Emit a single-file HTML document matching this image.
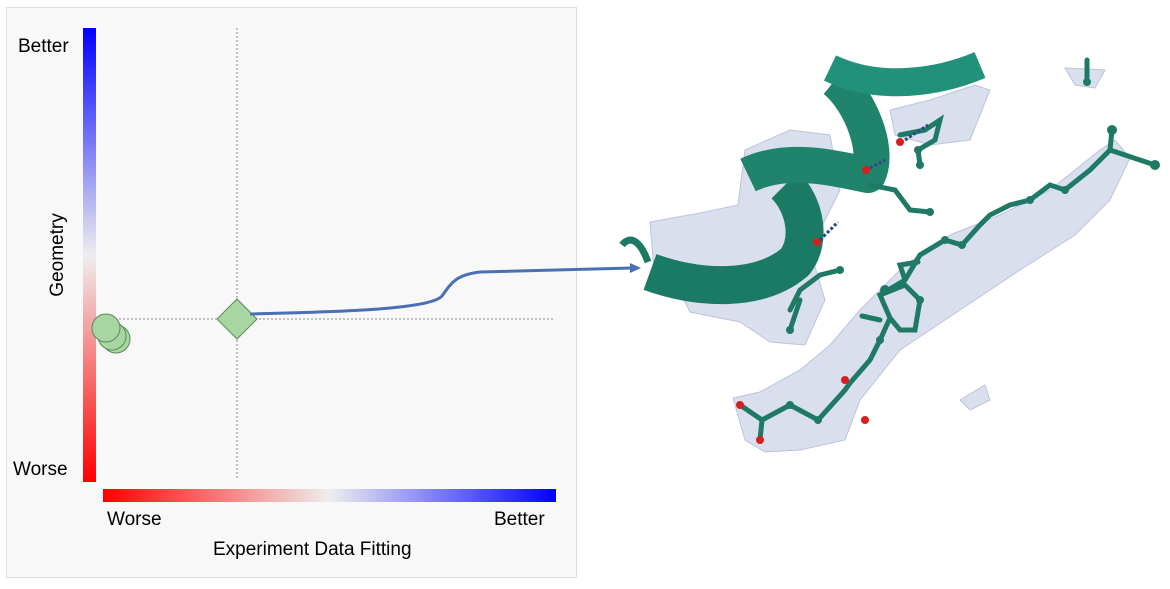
<!DOCTYPE html>
<html><head><meta charset="utf-8"><style>
html,body{margin:0;padding:0;background:#fff;}
body{width:1170px;height:584px;overflow:hidden;font-family:"Liberation Sans",sans-serif;}
</style></head><body>
<svg width="1170" height="584" xmlns="http://www.w3.org/2000/svg" font-family="Liberation Sans, sans-serif">
<defs>
<linearGradient id="gv" x1="0" y1="0" x2="0" y2="1">
<stop offset="0" stop-color="#0000ff"/><stop offset="0.5" stop-color="#eeeeee"/><stop offset="1" stop-color="#ff0000"/></linearGradient>
<linearGradient id="gh" x1="0" y1="0" x2="1" y2="0">
<stop offset="0" stop-color="#ff0000"/><stop offset="0.5" stop-color="#eeeeee"/><stop offset="1" stop-color="#0000ff"/></linearGradient>
</defs>
<rect x="6.5" y="7.5" width="570" height="570" fill="#f8f8f8" stroke="#dddddd"/>
<rect x="83" y="28" width="13" height="454" fill="url(#gv)"/>
<rect x="103" y="489" width="453" height="13" fill="url(#gh)"/>
<line x1="237" y1="28" x2="237" y2="478" stroke="#888" stroke-dasharray="2,2" stroke-width="1"/>
<line x1="115" y1="319" x2="553" y2="319" stroke="#888" stroke-dasharray="2,2" stroke-width="1"/>
<g font-size="19" fill="#000">
<text x="18" y="52">Better</text>
<text x="13" y="475">Worse</text>
<text x="107" y="525">Worse</text>
<text x="494" y="525">Better</text>
<text x="213" y="555">Experiment Data Fitting</text>
<text transform="translate(63,255) rotate(-90)" text-anchor="middle">Geometry</text>
</g>
<circle cx="116" cy="339" r="14" fill="#a8d5a2" stroke="#5a8a5a"/>
<circle cx="112" cy="336" r="14" fill="#a8d5a2" stroke="#5a8a5a"/>
<circle cx="106" cy="328" r="14" fill="#a8d5a2" stroke="#5a8a5a"/>
<polygon points="237,299 257,319 237,339 217,319" fill="#a8d5a2" stroke="#5a8a5a"/>
<path d="M250,314 C330,312 430,310 442,296 C452,282 456,275 480,272 L632,268" fill="none" stroke="#4a6fb5" stroke-width="3"/>
<polygon points="641,268 630,263 630,273" fill="#4a6fb5"/>
<g fill="#d3d9ea" fill-opacity="0.85" stroke="#bcc4dc" stroke-width="1">
<polygon points="650,222 700,213 738,205 745,150 790,130 830,135 840,190 810,250 825,300 805,345 770,342 740,322 690,312 680,292 655,282"/>
<polygon points="733,398 760,392 800,370 830,345 860,310 905,265 950,235 1000,215 1050,190 1100,150 1115,140 1130,158 1110,200 1075,235 1020,270 960,310 900,350 860,400 845,440 800,450 765,452 745,440"/>
<polygon points="890,110 930,100 975,85 990,90 970,140 930,145 895,135"/>
<polygon points="1065,68 1105,70 1095,88 1075,85"/>
<polygon points="960,400 985,385 990,400 970,410"/>
</g>
<g fill="none" stroke-linecap="butt" stroke-linejoin="round">
<path d="M622,245 C630,235 640,240 648,262" stroke="#1d7a62" stroke-width="7"/>
<path d="M650,272 C700,290 760,292 795,262 C812,240 805,205 785,185" stroke="#1b7a64" stroke-width="38"/>
<path d="M748,175 C790,155 840,170 868,175 C880,150 860,100 835,80" stroke="#1f846b" stroke-width="36"/>
<path d="M830,68 C880,92 940,82 980,65" stroke="#22917a" stroke-width="28"/>
</g>
<g stroke="#1e7a64" stroke-width="5" fill="none" stroke-linecap="round">
<polyline points="740,405 762,420 790,405 818,420 845,390 850,383 870,360 880,340 890,318 880,295 905,285 920,300 915,330 900,330 890,318"/>
<polyline points="880,295 905,280 920,255 945,240 962,245 980,225 990,215 1010,205 1030,200 1050,185 1065,190 1090,170 1110,150 1112,130"/>
<polyline points="1110,150 1155,165"/>
<polyline points="905,280 900,265 918,262"/>
<polyline points="862,316 880,320"/>
<polyline points="762,420 760,440"/>
<polyline points="900,135 925,130 940,120 935,140 918,150 920,165"/>
<polyline points="870,185 895,190 910,210 930,212"/>
<polyline points="790,310 800,290 820,275 840,270"/>
<polyline points="800,300 790,330"/>
<polyline points="1087,60 1087,80"/>
</g>
<g fill="#1e7a64">
<circle cx="1112" cy="130" r="5"/><circle cx="1155" cy="165" r="5"/><circle cx="1030" cy="200" r="4"/>
<circle cx="945" cy="240" r="4"/><circle cx="920" cy="300" r="4"/><circle cx="885" cy="290" r="5"/>
<circle cx="880" cy="340" r="4"/><circle cx="790" cy="405" r="4"/><circle cx="818" cy="420" r="4"/>
<circle cx="790" cy="330" r="4"/><circle cx="918" cy="150" r="4"/><circle cx="920" cy="165" r="4"/>
<circle cx="930" cy="212" r="4"/><circle cx="840" cy="270" r="4"/><circle cx="1087" cy="82" r="4"/>
<circle cx="962" cy="245" r="4"/><circle cx="1065" cy="190" r="4"/>
</g>
<g fill="#d42020">
<circle cx="740" cy="405" r="4"/><circle cx="760" cy="440" r="4"/><circle cx="845" cy="380" r="4"/>
<circle cx="865" cy="420" r="4"/><circle cx="866" cy="170" r="4"/><circle cx="900" cy="142" r="4"/>
<circle cx="817" cy="242" r="4"/>
</g>
<g stroke="#2a4a80" stroke-width="3" stroke-dasharray="3,2">
<line x1="820" y1="240" x2="838" y2="222"/><line x1="870" y1="168" x2="885" y2="160"/><line x1="905" y1="140" x2="928" y2="125"/>
</g>
</svg>
</body></html>
